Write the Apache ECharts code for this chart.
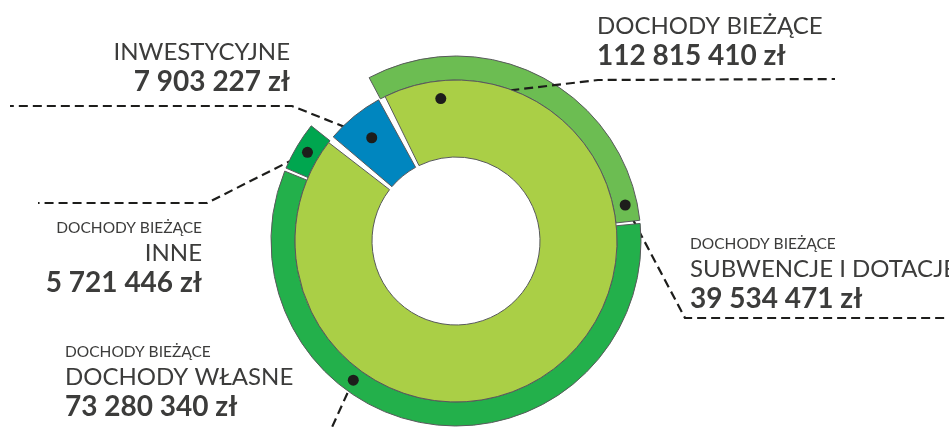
<!DOCTYPE html>
<html>
<head>
<meta charset="utf-8">
<title>Dochody</title>
<script src="https://cdn.jsdelivr.net/npm/echarts@6/dist/echarts.min.js"></script>
<style>
  html, body { margin: 0; padding: 0; background: #fff; }
  #chart { width: 949px; height: 427px; }
</style>
</head>
<body>
<div id="chart"></div>
<script>
// --- dane ---
// wewnętrzny pierścień: podział dochodów
const innerNames = ['INWESTYCYJNE', 'DOCHODY BIEŻĄCE'];
const innerValues = [7903227, 112815410];
// zewnętrzny pierścień: struktura dochodów bieżących
const outerNames = ['SUBWENCJE I DOTACJE', 'DOCHODY WŁASNE', 'INNE'];
const outerValues = [39534471, 73280340, 5721446];
const outerPrefix = 'DOCHODY BIEŻĄCE';

const innerColors = ['#0086bf', '#aacf46'];
const outerColors = ['#6cbd52', '#23b04b', '#00a64f'];
const textColor = '#3c3c3b';
const lineColor = '#1d1d1b';
const font = 'Lato';

// gdzie stoi kropka (ułamek kąta / głębokość w pierścieniu) i gdzie podpis
const spots = {
  'DOCHODY BIEŻĄCE':     { at: 0.06, depth: 0.77, elbow: [598, 80],  end: [835, 79],  text: [597, 11], align: 'left' },
  'INWESTYCYJNE':        { at: 0.5,  depth: 0.64, elbow: [292, 106], end: [10, 106],  text: [290, 37], align: 'right' },
  'SUBWENCJE I DOTACJE': { at: 0.95, depth: 0.5,  elbow: [685, 318], end: [960, 318], text: [690, 234], align: 'left' },
  'DOCHODY WŁASNE':      { at: 0.635, depth: 0.5, elbow: [328, 436], end: [40, 436],  text: [65, 342], align: 'left' },
  'INNE':                { at: 0.5,  depth: 0.5,  elbow: [207, 203], end: [38, 203],  text: [202, 218], align: 'right' }
};

const fmt = v => String(v).replace(/\B(?=(\d{3})+(?!\d))/g, ' ') + ' zł';

const chart = echarts.init(document.getElementById('chart'));

function anchorOf(seriesIndex, dataIndex) {
  const data = chart.getModel().getSeriesByIndex(seriesIndex).getData();
  const l = data.getItemLayout(dataIndex);
  const spot = spots[data.getName(dataIndex)];
  const a = l.startAngle + (l.endAngle - l.startAngle) * spot.at;
  const r = l.r0 + (l.r - l.r0) * spot.depth;
  return [l.cx + r * Math.cos(a), l.cy + r * Math.sin(a)];
}

function placeLabel(params) {
  const data = chart.getModel().getSeriesByIndex(params.seriesIndex).getData();
  const spot = spots[data.getName(params.dataIndex)];
  if (!spot) return {};
  return {
    x: spot.text[0],
    y: spot.text[1],
    align: spot.align,
    verticalAlign: 'top',
    labelLinePoints: [anchorOf(params.seriesIndex, params.dataIndex), spot.elbow, spot.end]
  };
}

const rich = {
  s: { fontFamily: font, fontSize: 15.5, lineHeight: 20, color: textColor },
  m: { fontFamily: font, fontSize: 24, lineHeight: 30, color: textColor },
  b: { fontFamily: font, fontSize: 28, lineHeight: 30, fontWeight: 'bold', color: textColor }
};

const labelBase = {
  show: true,
  position: 'outside',
  width: 500,
  rich: rich
};
const labelLineBase = {
  show: true,
  lineStyle: { color: lineColor, width: 2.2, type: [9, 5] }
};
const outline = { borderColor: '#58595b', borderWidth: 1 };

const innerData = innerNames.map((n, i) => ({
  name: n,
  value: innerValues[i],
  itemStyle: Object.assign({ color: innerColors[i] }, outline),
  label: Object.assign({}, labelBase, { formatter: `{m|${n}}\n{b|${fmt(innerValues[i])}}` })
}));

// pusty wycinek w miejscu inwestycji, żeby zewnętrzny pierścień miał przerwę
const outerData = [{
  name: '',
  value: innerValues[0],
  itemStyle: { color: 'rgba(0,0,0,0)', borderWidth: 0 },
  label: { show: false },
  labelLine: { show: false }
}].concat(outerNames.map((n, i) => ({
  name: n,
  value: outerValues[i],
  itemStyle: Object.assign({ color: outerColors[i] }, outline),
  label: Object.assign({}, labelBase, { formatter: `{s|${outerPrefix}}\n{m|${n}}\n{b|${fmt(outerValues[i])}}` })
})));

const option = {
  animation: false,
  series: [
    {
      name: 'Dochody',
      type: 'pie',
      z: 3,
      center: [456, 241],
      radius: [84, 161],
      startAngle: 141,
      padAngle: 2.6,
      avoidLabelOverlap: false,
      emphasis: { disabled: true },
      labelLine: labelLineBase,
      labelLayout: placeLabel,
      data: innerData
    },
    {
      name: 'Dochody bieżące',
      type: 'pie',
      z: 2,
      center: [456, 241],
      radius: [161, 185],
      startAngle: 141,
      padAngle: 1,
      avoidLabelOverlap: false,
      emphasis: { disabled: true },
      labelLine: labelLineBase,
      labelLayout: placeLabel,
      data: outerData
    }
  ]
};
chart.setOption(option);

// kropki na początku linii odniesienia
const dots = [];
[0, 1].forEach(si => {
  const data = chart.getModel().getSeriesByIndex(si).getData();
  data.each(i => {
    if (!spots[data.getName(i)]) return;
    const p = anchorOf(si, i);
    dots.push({ type: 'circle', z: 100, shape: { cx: p[0], cy: p[1], r: 5.5 }, style: { fill: lineColor } });
  });
});
chart.setOption({ graphic: dots });

window.addEventListener('resize', () => chart.resize());
</script>
</body>
</html>
